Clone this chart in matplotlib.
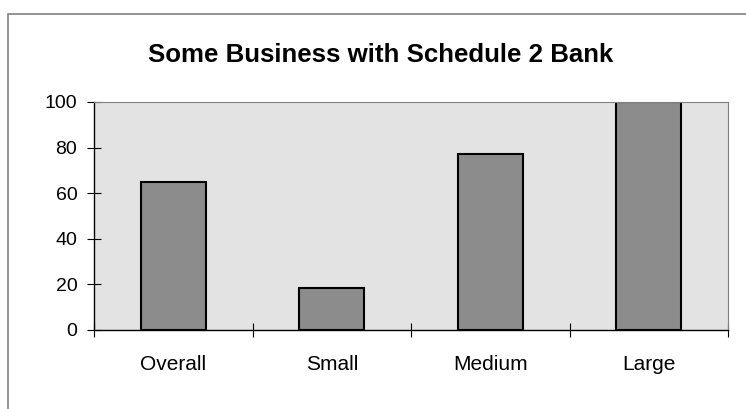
import matplotlib.pyplot as plt
from matplotlib.patches import Rectangle

categories = ["Overall", "Small", "Medium", "Large"]
values = [65, 18.5, 77, 100]
y_ticks = [0, 20, 40, 60, 80, 100]

W, H = 746, 409
fig = plt.figure(figsize=(W / 100, H / 100), dpi=100)
plt.rcParams["font.family"] = ["Liberation Sans", "DejaVu Sans"]

# outer chart border (only left and top fall inside the picture)
fig.patches.append(Rectangle((8 / W, -0.1), 1.2, (H - 14) / H + 0.1,
                             transform=fig.transFigure, fill=False,
                             edgecolor="#808080", lw=1.2))

ax = fig.add_axes([94 / W, 1 - 330 / H, (728 - 94) / W, (330 - 102) / H])
ax.set_facecolor("#e3e3e3")

xs = [i + 0.5 for i in range(len(categories))]
ax.bar(xs, values, width=0.41, color="#8c8c8c", edgecolor="black", lw=1.5)

ax.set_xlim(0, len(categories))
ax.set_ylim(0, 100)
ax.set_yticks(y_ticks)
ax.set_xticks(range(len(categories) + 1))
ax.set_xticklabels([])
ax.set_xticks(xs, minor=True)
ax.set_xticklabels(categories, minor=True)
ax.tick_params(axis="x", which="minor", length=0, pad=18, labelsize=15)
ax.tick_params(axis="x", which="major", direction="inout", length=10, width=0.8)
ax.tick_params(axis="y", direction="inout", length=10, width=0.8,
               labelsize=14, pad=7)

for s in ["top", "right"]:
    ax.spines[s].set_color("#808080")
for s in ["left", "bottom"]:
    ax.spines[s].set_color("black")
    ax.spines[s].set_linewidth(1.0)

fig.text(380.5 / W, 1 - 62.3 / H, "Some Business with Schedule 2 Bank",
         ha="center", va="baseline", fontsize=18.6, fontweight="bold")

fig.savefig("out.png", dpi=100)
